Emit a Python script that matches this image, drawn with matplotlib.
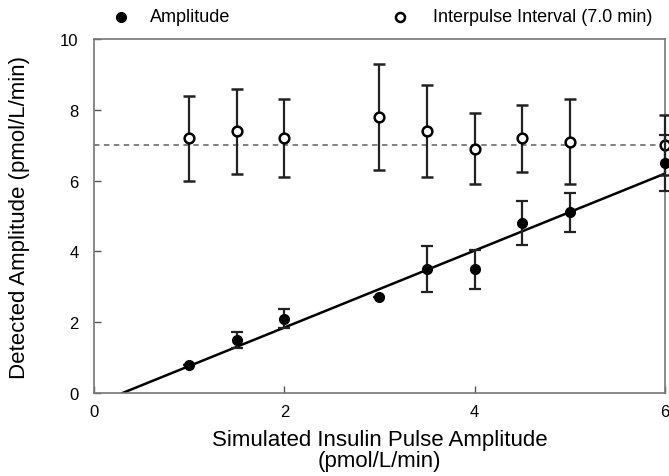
import numpy as np
import matplotlib
matplotlib.use('Agg')
from matplotlib import pyplot as plt

plt.rcParams['font.family'] = ['Liberation Sans', 'DejaVu Sans']

# Detected amplitude (filled circles)
amp_x = [1.0, 1.5, 2.0, 3.0, 3.5, 4.0, 4.5, 5.0, 6.0]
amp_y = [0.8, 1.5, 2.1, 2.7, 3.5, 3.5, 4.8, 5.1, 6.5]
amp_err = [0.0, 0.22, 0.27, 0.0, 0.65, 0.55, 0.62, 0.55, 0.78]

# Interpulse interval (open circles)
ipi_x = [1.0, 1.5, 2.0, 3.0, 3.5, 4.0, 4.5, 5.0, 6.0]
ipi_y = [7.2, 7.4, 7.2, 7.8, 7.4, 6.9, 7.2, 7.1, 7.0]
ipi_err = [1.2, 1.2, 1.1, 1.5, 1.3, 1.0, 0.95, 1.2, 0.85]

# fitted regression line
fit_x = [0.3, 6.0]
fit_y = [0.0, 6.2]
true_interval = 7.0

fig = plt.figure(figsize=(6.69, 4.77), dpi=100)
ax = fig.add_axes([0.1405, 0.174, 0.8535, 0.742])

# dashed line at true interval
ax.axhline(true_interval, color='#777777', ls=(0, (3, 2.5)), lw=1.3, zorder=1)

# regression line
ax.plot(fit_x, fit_y, color='black', lw=1.8, zorder=2)

ax.errorbar(ipi_x, ipi_y, yerr=ipi_err, fmt='o', mfc='white', mec='black',
            mew=1.8, ms=7, ecolor='#222222', elinewidth=1.6, capsize=4.5,
            capthick=1.6, zorder=3, clip_on=False)
ax.errorbar(amp_x, amp_y, yerr=amp_err, fmt='o', mfc='black', mec='black',
            ms=7, ecolor='#222222', elinewidth=1.6, capsize=4.5,
            capthick=1.6, zorder=4, clip_on=False)

ax.set_xlim(0, 6)
ax.set_ylim(0, 10)
ax.set_xticks([0, 2, 4, 6])
ax.set_yticks([0, 2, 4, 6, 8, 10])
ax.tick_params(direction='in', length=5, width=1, color='#555555',
               labelsize=12)
ax.tick_params(axis='x', pad=8)
ax.tick_params(axis='y', pad=11)
for s in ax.spines.values():
    s.set_color('#777777')
    s.set_linewidth(1.2)

ax.set_ylabel('Detected Amplitude (pmol/L/min)', fontsize=16)
ax.yaxis.set_label_coords(-0.112, 0.5)
ax.set_xlabel('Simulated Insulin Pulse Amplitude\n(pmol/L/min)', fontsize=16,
              linespacing=1.0, labelpad=7)

# legend drawn at top like the original
ly = 1 - 18 / 477
ax.plot([121 / 669], [ly], 'o', mfc='black', mec='black', ms=7,
        transform=fig.transFigure, clip_on=False)
fig.text(150 / 669, ly, 'Amplitude', fontsize=13, ha='left', va='center')
ax.plot([400 / 669], [ly], 'o', mfc='white', mec='black', mew=1.8,
        ms=6.5, transform=fig.transFigure, clip_on=False)
fig.text(433 / 669, ly, 'Interpulse Interval (7.0 min)', fontsize=13,
         ha='left', va='center')

fig.savefig('out.png', dpi=100)
